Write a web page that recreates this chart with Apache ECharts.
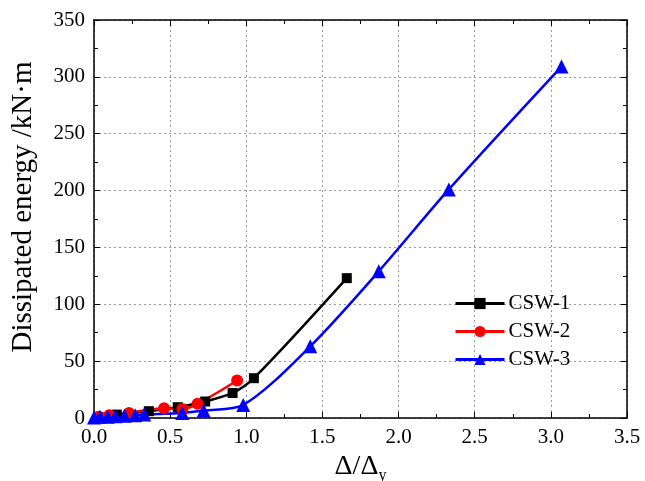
<!DOCTYPE html>
<html><head><meta charset="utf-8">
<script src="https://cdn.jsdelivr.net/npm/echarts@6/dist/echarts.min.js"></script>
<style>html,body{margin:0;padding:0;background:#fff}#c{width:645px;height:481px}</style>
</head><body><div id="c"></div>
<script>
var xTicks = [0.0, 0.5, 1.0, 1.5, 2.0, 2.5, 3.0, 3.5];
var yTicks = [0, 50, 100, 150, 200, 250, 300, 350];
var seriesNames = ['CSW-1', 'CSW-2', 'CSW-3'];
var csw1 = [[0.03, 1], [0.15, 3], [0.36, 6], [0.55, 9.5], [0.73, 14.5], [0.91, 22], [1.05, 35], [1.66, 123]];
var csw2 = [[0.03, 1], [0.1, 2.5], [0.23, 4.5], [0.46, 8.5], [0.58, 8], [0.68, 12.5], [0.94, 33]];
var csw3 = [[0.0, 0.5], [0.04, 1], [0.09, 1.2], [0.14, 1.5], [0.2, 2], [0.27, 2.5], [0.33, 3], [0.58, 4.5], [0.72, 6.5], [0.98, 11.5], [1.42, 63], [1.87, 129], [2.33, 201], [3.07, 309]];
var colors = ['#000000', '#ff0000', '#0000ff'];
var symbols = ['rect', 'circle', 'triangle'];

var font = 'Liberation Serif';
var chart = echarts.init(document.getElementById('c'));
function mkSeries(i, data) {
  return {
    name: seriesNames[i], type: 'line', data: data, smooth: 0.3,
    symbol: symbols[i], symbolSize: [10, 12, 14][i],
    lineStyle: { color: colors[i], width: 2.5 },
    itemStyle: { color: colors[i] },
    xAxisIndex: 0, yAxisIndex: 0
  };
}
var axisCommon = {
  axisLine: { show: true, onZero: false, lineStyle: { color: '#000', width: 1.5 } },
  axisTick: { show: true, inside: true, length: 6, lineStyle: { color: '#000', width: 1 } },
  minorTick: { show: true, splitNumber: 2, length: 4, lineStyle: { color: '#000' } }
};
chart.setOption({
  animation: false,
  color: colors,
  grid: { left: 94, right: 18, top: 20, bottom: 63, containLabel: false, outerBoundsMode: 'none' },
  legend: {
    left: 449, top: 288, orient: 'vertical', itemWidth: 49, itemHeight: 14, itemGap: 7,
    lineStyle: { width: 3 },
    textStyle: { fontFamily: font, fontSize: 21, color: '#000', padding: [0, 0, 0, -1] },
    data: seriesNames
  },
  xAxis: [
    Object.assign({
      type: 'value', min: 0, max: 3.5, interval: 0.5,
      name: '{a|Δ/Δ}{b|y}', nameLocation: 'middle', nameGap: 28,
      nameTextStyle: { rich: { a: { fontFamily: font, fontSize: 28, color: '#000' }, b: { fontFamily: font, fontSize: 16, color: '#000', padding: [18, 0, 0, 0] } } },
      axisLabel: { fontFamily: font, fontSize: 21, color: '#000', margin: 9, formatter: function (v) { return v.toFixed(1); } },
      splitLine: { show: true, lineStyle: { color: '#999', type: [2, 3], width: 1 } }
    }, axisCommon),
    Object.assign({
      type: 'value', min: 0, max: 3.5, interval: 0.5, position: 'top',
      axisLabel: { show: false }, splitLine: { show: false }
    }, axisCommon)
  ],
  yAxis: [
    Object.assign({
      type: 'value', min: 0, max: 350, interval: 50,
      name: 'Dissipated energy /kN·m', nameLocation: 'middle', nameGap: 56,
      nameTextStyle: { fontFamily: font, fontSize: 29, color: '#000', padding: [0, 0, 0, 24] },
      axisLabel: { fontFamily: font, fontSize: 21, color: '#000', margin: 9 },
      splitLine: { show: true, lineStyle: { color: '#999', type: [2, 3], width: 1 } }
    }, axisCommon),
    Object.assign({
      type: 'value', min: 0, max: 350, interval: 50, position: 'right',
      axisLabel: { show: false }, splitLine: { show: false }
    }, axisCommon)
  ],
  series: [mkSeries(0, csw1), mkSeries(1, csw2), mkSeries(2, csw3)]
});
</script></body></html>
